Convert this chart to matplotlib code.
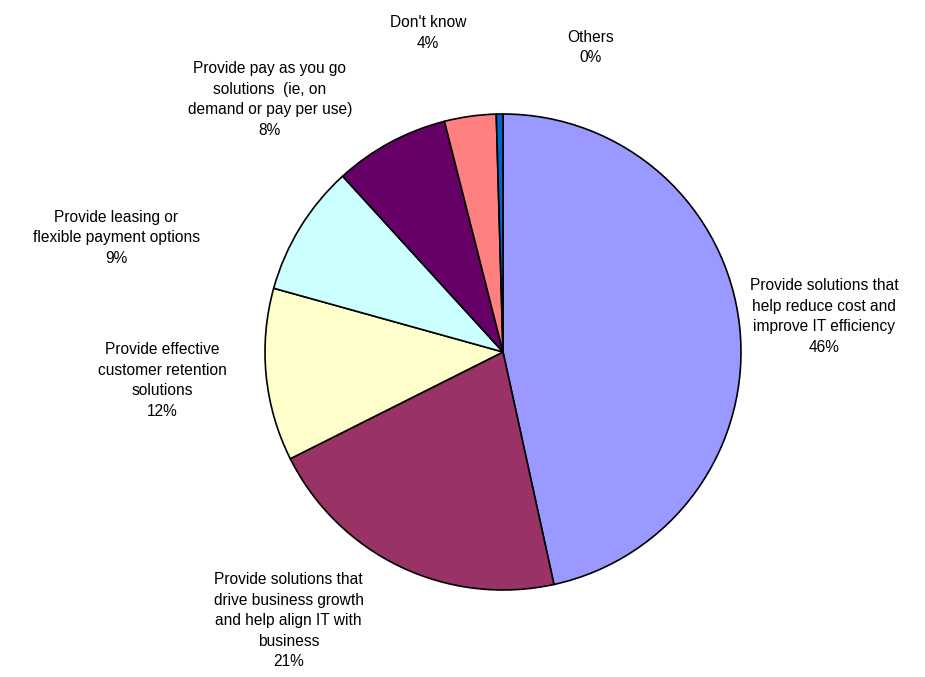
import matplotlib.pyplot as plt

names = ["Provide solutions that\nhelp reduce cost and\nimprove IT efficiency",
         "Provide solutions that\ndrive business growth\nand help align IT with\nbusiness",
         "Provide effective\ncustomer retention\nsolutions",
         "Provide leasing or\nflexible payment options",
         "Provide pay as you go\nsolutions  (ie, on\ndemand or pay per use)",
         "Don't know",
         "Others"]
shares = [46.49, 21.0, 11.7, 8.9, 7.8, 3.5, 0.45]
colors = ["#9999FF", "#993366", "#FFFFCC", "#CCFFFF", "#660066", "#FF8080", "#0066CC"]

# label centres in pie-radius units (taken from the reference layout)
label_xy = [(1.35, 0.15), (-0.90, -1.13), (-1.43, -0.12), (-1.626, 0.48),
            (-0.98, 1.06), (-0.315, 1.34), (0.366, 1.28)]

plt.rcParams["font.family"] = ["Liberation Sans", "DejaVu Sans"]

fig = plt.figure(figsize=(9.25, 6.77), dpi=100)
ax = fig.add_axes([0, 0, 1, 1])

ax.pie(shares, colors=colors, startangle=90, counterclock=False,
       wedgeprops=dict(edgecolor="black", linewidth=1.2))

for name, val, (x, y) in zip(names, shares, label_xy):
    ax.text(x, y, f"{name}\n{round(val)}%", ha="center", va="center",
            fontsize=11.2, linespacing=1.46)

r = 238.0
cx, cy = 503.0, 677 - 352.0
ax.set_xlim(-cx / r, (925 - cx) / r)
ax.set_ylim(-cy / r, (677 - cy) / r)
ax.set_aspect("auto")
ax.axis("off")

fig.savefig("out.png", dpi=100)
